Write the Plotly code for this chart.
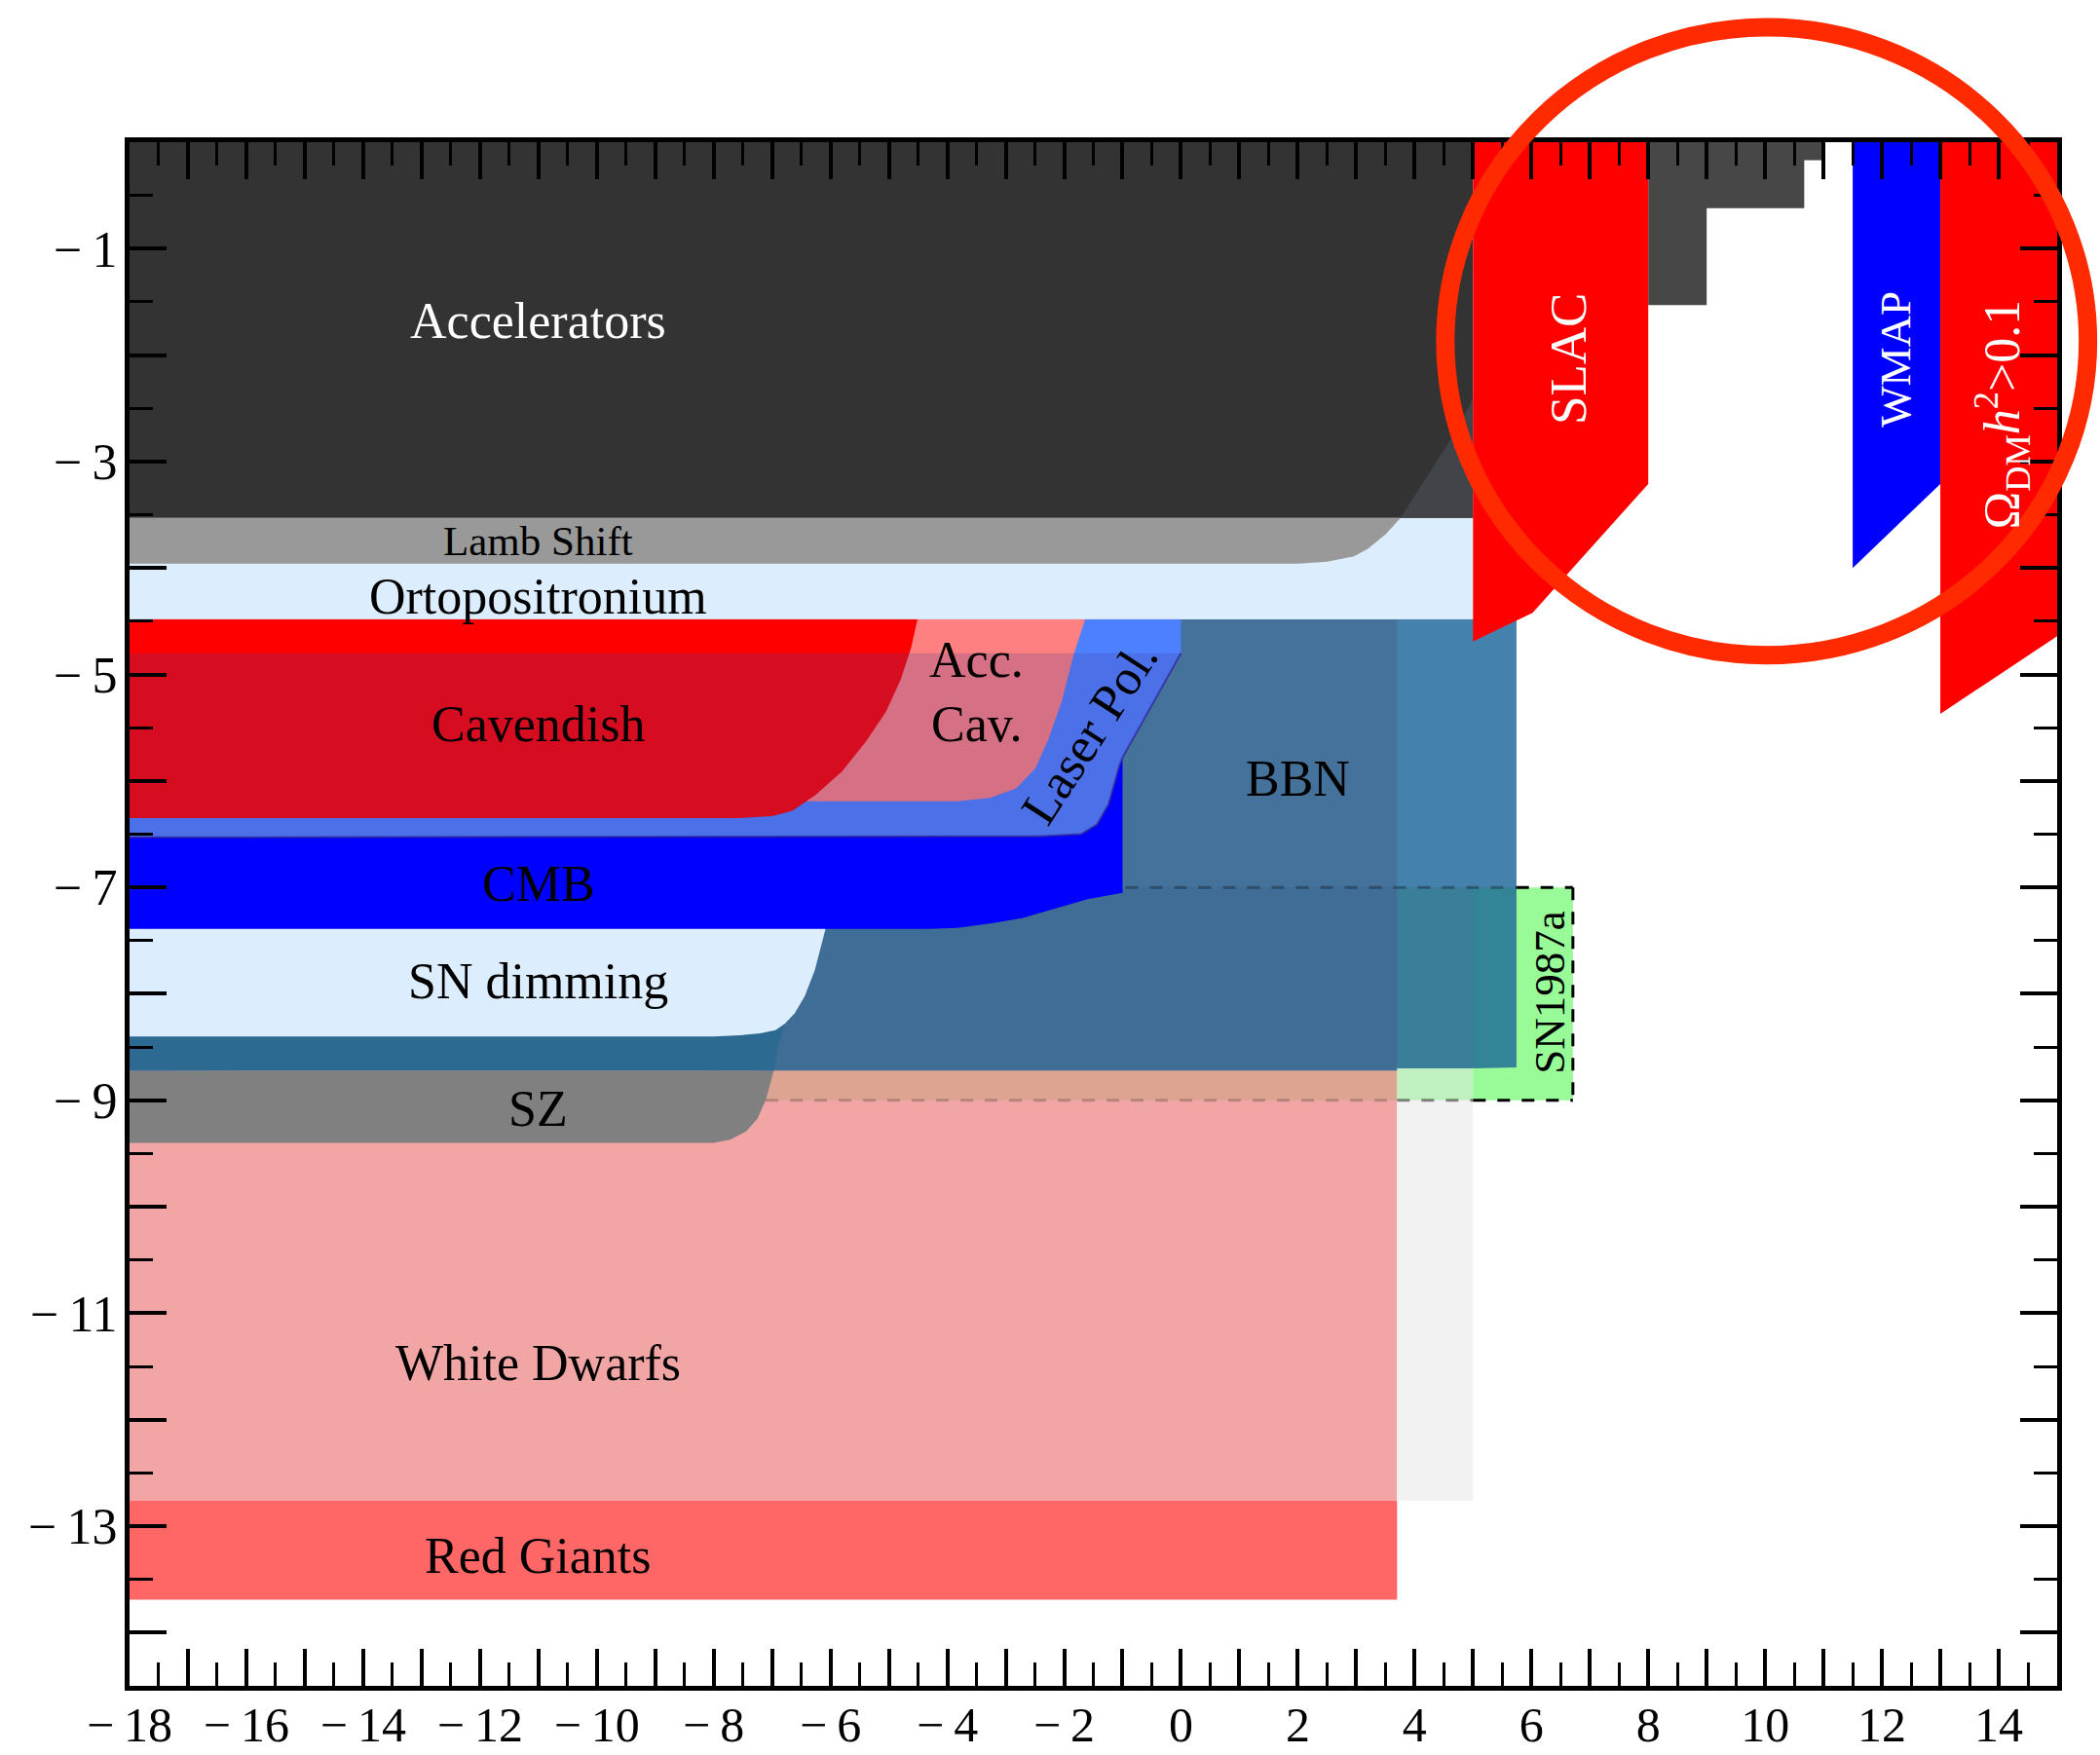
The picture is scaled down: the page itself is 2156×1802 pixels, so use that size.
import plotly.graph_objects as go

# ---------------- axis frame ----------------
X_RANGE = [-18, 15]
Y_RANGE = [-14.5, 0]
MINUS = "\u2212\u2009"
x_label_vals = list(range(-18, 15, 2))
x_labels = [MINUS + str(-v) if v < 0 else str(v) for v in x_label_vals]
x_long_vals = list(range(-17, 15, 2))
x_minor = [v + 0.5 for v in range(-18, 15)]
y_label_vals = list(range(-13, 0, 2))
y_labels = [MINUS + str(-v) for v in y_label_vals]
y_long_vals = list(range(-14, 0, 2))
y_minor = [v + 0.5 for v in range(-15, 0) if v + 0.5 > -14.5]

# ---------------- exclusion regions (log10 m, log10 chi) ----------------
# accelerators (upper-left block) and the lighter wedge at its lower right
acc_x = [-18, 5, 5, -18]
acc_y = [0, 0, -3.53, -3.53]
acc_wedge_x = [3.76, 4.18, 4.63, 5.0, 5.0]
acc_wedge_y = [-3.53, -3.17, -2.78, -2.41, -3.53]
acc_step_x = [8, 11, 11, 10.67, 10.67, 9, 9, 8]
acc_step_y = [0, 0, -0.17, -0.17, -0.62, -0.62, -1.53, -1.53]

lamb_x = [-18, 3.76, 3.51, 3.2, 2.96, 2.5, 2.01, -18]
lamb_y = [-3.53, -3.53, -3.68, -3.82, -3.89, -3.94, -3.96, -3.96]

ortho_x = [-18, 5, 5, -18]
ortho_y = [-3.53, -3.53, -4.48, -4.48]

cav_x = [-18, -4.51, -4.62, -4.80, -5.05, -5.38, -5.80, -6.25, -6.65, -7.0, -7.6, -18]
cav_y = [-4.48, -4.48, -4.75, -5.05, -5.35, -5.62, -5.91, -6.13, -6.28, -6.33, -6.35, -6.35]

acccav_x = [-18, -1.64, -1.83, -2.04, -2.27, -2.49, -2.82, -3.27, -3.83, -18]
acccav_y = [-4.48, -4.48, -4.80, -5.25, -5.61, -5.88, -6.07, -6.16, -6.19, -6.19]

laser_x = [-18, 0.0, 0.0, -0.55, -0.99, -1.05, -1.10, -1.24, -1.44, -1.71, -2.44, -18]
laser_y = [-4.48, -4.48, -4.80, -5.34, -5.77, -5.85, -5.95, -6.22, -6.41, -6.50, -6.52, -6.53]
shade_top = -4.80   # upper edge of the translucent band over the lab bounds

cmb_x = [-18, -1.0, -1.0, -1.6, -2.16, -2.72, -3.27, -3.83, -4.3, -18]
cmb_y = [-6.0, -5.8, -7.05, -7.11, -7.20, -7.29, -7.34, -7.38, -7.39, -7.39]

sndim_x = [-18, -6.0, -6.09, -6.27, -6.44, -6.61, -6.78, -6.94, -7.2, -7.55, -8.0, -18]
sndim_y = [-7.0, -7.0, -7.40, -7.78, -8.02, -8.18, -8.28, -8.34, -8.37, -8.39, -8.40, -8.40]

bbn_x = [-18, 5.74, 5.74, -18]
bbn_y = [-4.48, -4.48, -8.69, -8.72]
bbn_col_x = [3.7, 5.74, 5.74, 3.7]
bbn_col_y = [-4.48, -4.48, -7.0, -7.0]
bbn_box_x = [-7.2, 3.7, 3.7, -7.2]
bbn_box_y = [-7.0, -7.0, -8.72, -8.72]
bbn_box_mid_x = [3.7, 5.0, 5.0, 3.7]
bbn_box_mid_y = [-7.0, -7.0, -8.70, -8.70]
bbn_box_right_x = [5.0, 5.74, 5.74, 5.0]
bbn_box_right_y = [-7.0, -7.0, -8.69, -8.70]

# SZ: right-hand boundary from top to bottom
sz_curve_x = [-6.74, -6.80, -6.89, -6.97, -7.04, -7.11, -7.25, -7.44, -7.72, -8.0]
sz_curve_y = [-8.20, -8.31, -8.48, -8.72, -8.86, -9.00, -9.17, -9.29, -9.37, -9.40]
sz_split = 3  # index where the curve leaves the BBN band

wd_x = [-18, 3.7, 3.7, -18]
wd_y = [-8.72, -8.72, -12.76, -12.76]
rg_x = [-18, 3.7, 3.7, -18]
rg_y = [-12.76, -12.76, -13.69, -13.69]
sun_x = [3.7, 5.0, 5.0, 3.7]
sun_y = [-9.0, -9.0, -12.76, -12.76]

sn87_x = [5.0, 6.71, 6.71, 5.0]
sn87_y = [-7.0, -7.0, -9.0, -9.0]
sn87_sun_x = [3.7, 5.0, 5.0, 3.7]
sn87_sun_y = [-8.70, -8.70, -9.0, -9.0]
sn87_wd_x = [-8.0, 3.7, 3.7, -8.0]
sn87_wd_y = [-8.72, -8.72, -9.0, -9.0]
sn87_box = dict(x0=6.71, top=-7.0, bottom=-9.0, top_from=-0.95, bottom_from=-7.11)

slac_x = [5, 8, 8, 6.02, 5]
slac_y = [0, 0, -3.21, -4.42, -4.69]
wmap_x = [11.5, 13, 13, 11.5]
wmap_y = [0, 0, -3.21, -4.0]
omega_x = [13, 15, 15, 13]
omega_y = [0, 0, -4.64, -5.37]

# ---------------- labels ----------------
label_text = ["Accelerators", "Lamb Shift", "Ortopositronium", "Cavendish", "Acc.", "Cav.",
              "CMB", "BBN", "SN dimming", "SZ", "White Dwarfs", "Red Giants"]
label_x = [-11.0, -11.0, -11.0, -11.0, -3.5, -3.5, -11.0, 2.0, -11.0, -11.0, -11.0, -11.0]
label_y = [-1.68, -3.75, -4.27, -5.47, -4.86, -5.47, -6.97, -5.98, -7.88, -9.08, -11.47, -13.28]
label_size = [52, 43, 52, 52, 52, 52, 52, 52, 52, 52, 52, 52]
label_color = ["white"] + ["black"] * 11

FONT = "Liberation Serif, Times New Roman, serif"

fig = go.Figure()


def region(xs, ys, color):
    fig.add_trace(go.Scatter(x=xs, y=ys, mode="lines", fill="toself", fillcolor=color,
                             line=dict(width=0, color=color), hoverinfo="skip",
                             showlegend=False))


# bottom layers: astrophysical bounds
region(wd_x, wd_y, "#f1a5a5")
region(rg_x, rg_y, "#ff6666")
region(sun_x, sun_y, "#f2f2f2")
region(sn87_wd_x, sn87_wd_y, "#dca491")
region(sn87_sun_x, sn87_sun_y, "#c0f0c0")
region(sn87_x, sn87_y, "#98fb98")

sz_lo_x = [-18] + sz_curve_x[sz_split:] + [-18]
sz_lo_y = [sz_curve_y[sz_split]] + sz_curve_y[sz_split:] + [sz_curve_y[-1]]
region(sz_lo_x, sz_lo_y, "#808080")

# BBN and its overlaps
region(bbn_x, bbn_y, "#44729a")
region(bbn_col_x, bbn_col_y, "#4482ad")
region(bbn_box_x, bbn_box_y, "#3f6d95")
region(bbn_box_mid_x, bbn_box_mid_y, "#3a7e99")
region(bbn_box_right_x, bbn_box_right_y, "#348497")
sz_hi_x = [-18] + sz_curve_x[:sz_split + 1] + [-18]
sz_hi_y = [sz_curve_y[0]] + sz_curve_y[:sz_split + 1] + [sz_curve_y[sz_split]]
region(sz_hi_x, sz_hi_y, "#2d6a92")

region(sndim_x, sndim_y, "#dcedfd")
region(cmb_x, cmb_y, "#0000ff")

# laboratory bounds
region(laser_x, laser_y, "#4d80ff")
region(acccav_x, acccav_y, "#ff8080")
region(cav_x, cav_y, "#ff0000")
shade_x = [-18] + laser_x[2:]
shade_y = [shade_top] + laser_y[2:]
region(shade_x, shade_y, "rgba(68,55,150,0.22)")
fig.add_trace(go.Scatter(x=laser_x[2:], y=laser_y[2:], mode="lines",
                         line=dict(width=2, color="rgba(50,40,150,0.75)"),
                         hoverinfo="skip", showlegend=False))

region(ortho_x, ortho_y, "#dcedfd")
region(lamb_x, lamb_y, "#999999")
region(acc_x, acc_y, "#333333")
region(acc_wedge_x, acc_wedge_y, "#41454a")
region(acc_step_x, acc_step_y, "#474747")

# dark matter / cosmology bands at high mass
region(slac_x, slac_y, "#ff0000")
region(wmap_x, wmap_y, "#0000ff")
region(omega_x, omega_y, "#ff0000")

# SN1987a dashed outline
b = sn87_box
dash = "13px,12px"
seg = [
    ([b["top_from"], 5.74], [b["top"], b["top"]], "rgba(0,0,0,0.3)"),
    ([5.74, b["x0"]], [b["top"], b["top"]], "black"),
    ([b["x0"], b["x0"]], [b["top"], b["bottom"]], "black"),
    ([b["bottom_from"], 3.7], [b["bottom"], b["bottom"]], "rgba(0,0,0,0.2)"),
    ([3.7, 5.0], [b["bottom"], b["bottom"]], "rgba(0,0,0,0.45)"),
    ([5.0, b["x0"]], [b["bottom"], b["bottom"]], "black"),
]
for xs, ys, c in seg:
    fig.add_trace(go.Scatter(x=xs, y=ys, mode="lines", line=dict(width=3, color=c, dash=dash),
                             hoverinfo="skip", showlegend=False))

# empty trace that carries the secondary (unlabelled long-tick) axes
fig.add_trace(go.Scatter(x=[None], y=[None], xaxis="x2", yaxis="y2", mode="lines",
                         hoverinfo="skip", showlegend=False))

# ---------------- text ----------------
for t, x, y, s, c in zip(label_text, label_x, label_y, label_size, label_color):
    fig.add_annotation(x=x, y=y, text=t, showarrow=False, font=dict(family=FONT, size=s, color=c),
                       xanchor="center", yanchor="middle")

fig.add_annotation(x=-1.56, y=-5.54, text="Laser Pol.", showarrow=False, textangle=-57,
                   font=dict(family=FONT, size=52, color="black"))
fig.add_annotation(x=6.32, y=-7.98, text="SN1987a", showarrow=False, textangle=-90,
                   font=dict(family=FONT, size=45, color="black"))
fig.add_annotation(x=6.63, y=-2.04, text="SLAC", showarrow=False, textangle=-90,
                   font=dict(family=FONT, size=53, color="white"))
fig.add_annotation(x=12.23, y=-2.04, text="WMAP", showarrow=False, textangle=-90,
                   font=dict(family=FONT, size=45, color="white"))
fig.add_annotation(x=14.06, y=-2.56, text="\u03a9<sub>DM</sub><i>h</i><sup>2</sup>&gt;0.1",
                   showarrow=False, textangle=-90, font=dict(family=FONT, size=52, color="white"))

# highlight ring around the high-mass corner
fig.add_shape(type="circle", xref="paper", yref="paper", x0=0.6826, x1=1.016, y0=0.6677, y1=1.0744,
              line=dict(color="#ff2a00", width=19), layer="above")

tick_style = dict(showgrid=False, zeroline=False, showline=True, linecolor="black", linewidth=5,
                  mirror="ticks", ticks="inside", ticklen=38, tickwidth=3.5, tickcolor="black",
                  tickmode="array", automargin=False)
minor_style = dict(ticks="inside", ticklen=24, tickwidth=3, tickcolor="black", tickmode="array")

fig.update_layout(
    xaxis=dict(range=X_RANGE, tickvals=x_label_vals, ticktext=x_labels, ticklabelstandoff=-8,
               tickfont=dict(family=FONT, size=50, color="black"),
               minor=dict(tickvals=x_minor, **minor_style), **tick_style),
    yaxis=dict(range=Y_RANGE, tickvals=y_label_vals, ticktext=y_labels, ticklabelstandoff=-3,
               tickfont=dict(family=FONT, size=52, color="black"),
               minor=dict(tickvals=y_minor, **minor_style), **tick_style),
    xaxis2=dict(range=X_RANGE, overlaying="x", anchor="y2", side="bottom", tickvals=x_long_vals,
                showticklabels=False, **tick_style),
    yaxis2=dict(range=Y_RANGE, overlaying="y", anchor="x2", side="left", tickvals=y_long_vals,
                showticklabels=False, **tick_style),
)

fig.update_layout(width=2156, height=1802, autosize=False,
                  margin=dict(l=133, r=44, t=146, b=71, pad=0),
                  paper_bgcolor="white", plot_bgcolor="white", showlegend=False)

fig.write_html("out.html")
